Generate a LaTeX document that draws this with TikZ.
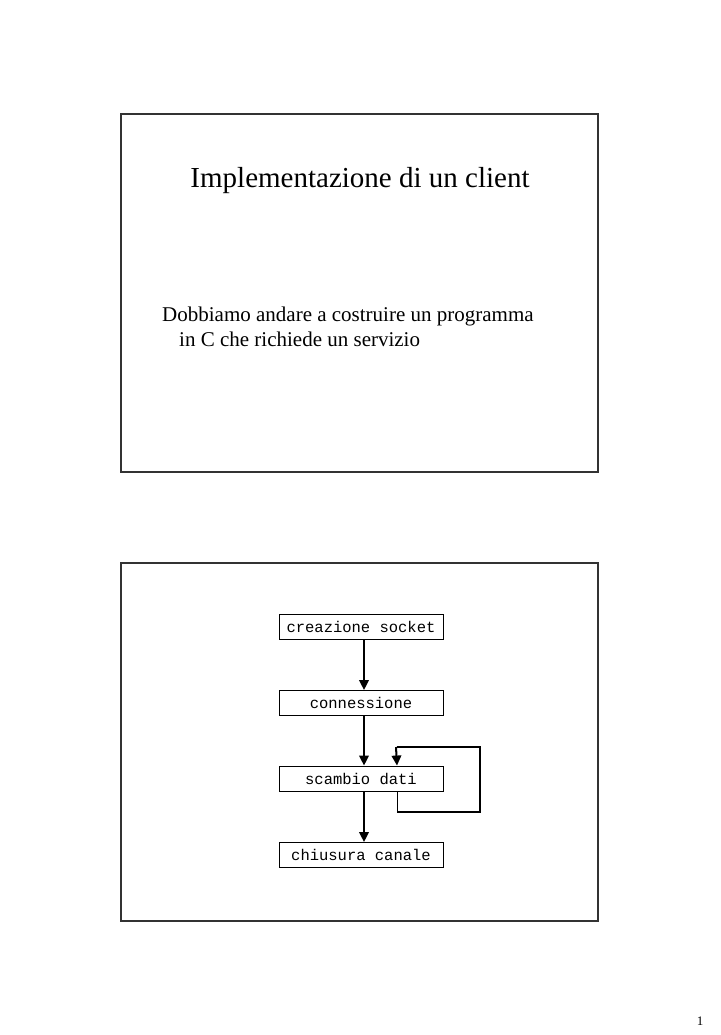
\documentclass[tikz,border=0pt]{standalone}
\usepackage{fontspec}
\setmainfont{Liberation Serif}
\newfontfamily\courfont{Liberation Mono}
\usetikzlibrary{arrows.meta}
\tikzset{
  slideframe/.style={draw=black!80, line width=1.1pt},
  stepbox/.style={draw=black, line width=0.9pt, minimum width=164pt, minimum height=25pt, inner sep=0pt, font=\courfont\fontsize{15.5}{18}\selectfont},
  arr/.style={line width=2pt, -{Triangle[width=9.5pt,length=10pt]}},
  loopline/.style={line width=2pt},
}
\begin{document}
\begin{tikzpicture}[x=1pt,y=-1pt]
\useasboundingbox (0,0) rectangle (720,1035);
\fill[white] (0,0) rectangle (720,1035);
% slide 1
\draw[slideframe] (121,114) rectangle (598,472);
\node[anchor=base, inner sep=0pt, font=\fontsize{29}{35}\selectfont] (title) at (360,187) {Implementazione di un client};
\node[anchor=base west, inner sep=0pt, font=\fontsize{21}{25}\selectfont] (l1) at (162,321) {Dobbiamo andare a costruire un programma};
\node[anchor=base west, inner sep=0pt, font=\fontsize{21}{25}\selectfont] (l2) at (179,346) {in C che richiede un servizio};
% slide 2
\draw[slideframe] (121,563) rectangle (598,921);
\node[stepbox] (cs) at (361,626.5) {creazione socket};
\node[stepbox] (cn) at (361,703) {connessione};
\node[stepbox] (sd) at (361,778.5) {scambio dati};
\node[stepbox] (cc) at (361,855) {chiusura canale};
\draw[arr] ([xshift=3pt]cs.south) -- ([xshift=3pt]cn.north);
\draw[arr] ([xshift=3pt]cn.south) -- ([xshift=3pt]sd.north);
\draw[arr] ([xshift=3pt]sd.south) -- ([xshift=3pt]cc.north);
\coordinate (p1) at (397,812);
\coordinate (p2) at (480,812);
\coordinate (p3) at (480,747);
\coordinate (p4) at (397,747);
\draw[line width=0.9pt] (sd.south -| p1) -- (p1);
\draw[loopline] (p1) -- (p2) -- (p3) -- (p4);
\draw[arr] ([xshift=-1pt]p4) -- (sd.north -| p4);
% page number
\node[anchor=base, inner sep=0pt, font=\fontsize{13}{15}\selectfont] (pg) at (700,1025) {1};
\end{tikzpicture}
\end{document}
